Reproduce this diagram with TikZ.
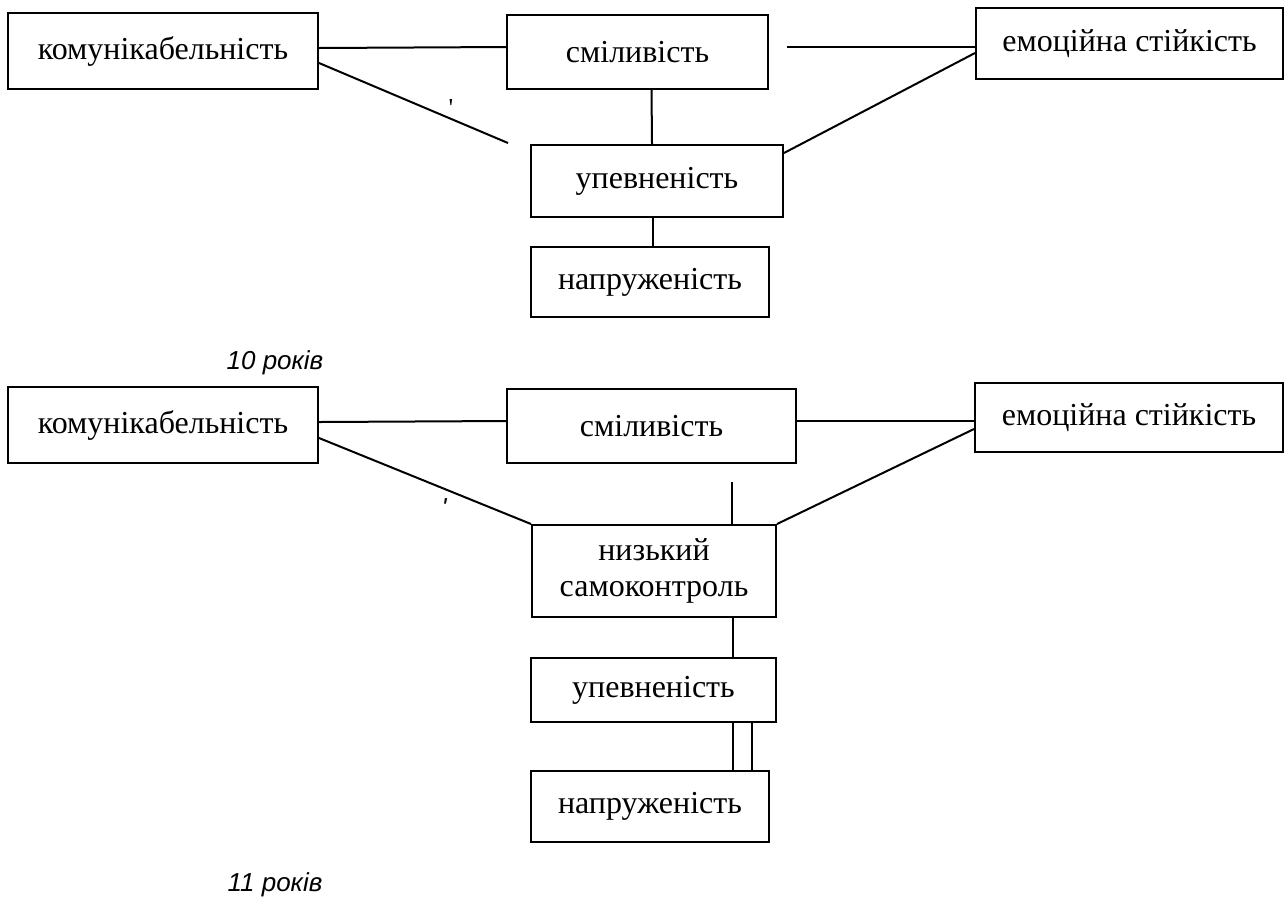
\documentclass[tikz,border=0pt]{standalone}
\usepackage{fontspec}
\setmainfont{Liberation Serif}
\newfontfamily\agefont{Liberation Sans}
\newfontfamily\strayfont[Ligatures=TeXOff]{Liberation Serif}

\tikzstyle{block} = [rectangle, draw, line width=1pt, fill=white, text centered, inner sep=0pt, font=\fontsize{16}{18}\selectfont]
\tikzstyle{line} = [draw, line width=1pt]
\tikzstyle{age} = [font=\agefont\fontsize{13}{15}\selectfont\itshape]
\tikzstyle{stray} = [inner sep=0pt, font=\strayfont\fontsize{13}{15}\selectfont]

\begin{document}
\begin{tikzpicture}[x=0.5pt, y=-0.5pt]
    \useasboundingbox (0,0) rectangle (1288,901);

    % 10 years
    \node[block, minimum width=155pt, minimum height=38pt] (kom1) at (163,51) {комунікабельність};
    \node[block, minimum width=130.5pt, minimum height=37pt] (smil1) at (637.5,52) {сміливість};
    \node[block, minimum width=153.5pt, minimum height=35.5pt] (emo1) at (1129.5,43.5) {емоційна стійкість};
    \node[block, minimum width=126pt, minimum height=36pt] (upev1) at (657,181) {упевненість};
    \node[block, minimum width=119pt, minimum height=35pt] (napr1) at (650,282) {напруженість};
    \node[age] (age1) at (275,363) {10 років};
    \node[stray] (tick1) at (451,108) {\char"27};

    \coordinate (gap1) at (508,143);
    \coordinate (gap2) at (787,47);

    % lines
    \draw[line] ([yshift=1.5pt]kom1.east) -- ([yshift=2.5pt]smil1.west);
    \draw[line] ([yshift=-6pt]kom1.east) -- (gap1);
    \draw[line] (gap2) -- ([yshift=-1.75pt]emo1.west);
    \draw[line] ([xshift=7pt]smil1.south) -- ([xshift=-2.5pt]upev1.north);
    \draw[line] ([yshift=-4.75pt]emo1.west) -- ([yshift=-4.5pt]upev1.north east);
    \draw[line] ([xshift=-2pt]upev1.south) -- ([xshift=1.5pt]napr1.north);

    % 11 years
    \node[block, minimum width=155pt, minimum height=38pt] (kom2) at (163,425) {комунікабельність};
    \node[block, minimum width=144.5pt, minimum height=37pt] (smil2) at (651.5,426) {сміливість};
    \node[block, minimum width=154pt, minimum height=34.5pt] (emo2) at (1129,417.5) {емоційна стійкість};
    \node[block, minimum width=122pt, minimum height=46pt, align=center] (nyz2) at (654,571) {низький\\самоконтроль};
    \node[block, minimum width=122.5pt, minimum height=32pt] (upev2) at (653.5,690) {упевненість};
    \node[block, minimum width=119pt, minimum height=35.5pt] (napr2) at (650,806.5) {напруженість};
    \node[age] (age2) at (275,885) {11 років};
    \node[stray, font=\agefont\fontsize{13}{15}\selectfont\itshape] (tick2) at (444,508) {\char"27};

    \coordinate (stub) at (732,482);
    \coordinate (pair1) at ([xshift=39.75pt]upev2.south);
    \coordinate (pair2) at ([xshift=49.25pt]upev2.south);
    \coordinate (link) at ([xshift=39.5pt]nyz2.south);

    % lines
    \draw[line] ([yshift=1.5pt]kom2.east) -- ([yshift=2.5pt]smil2.west);
    \draw[line] ([yshift=-6.5pt]kom2.east) -- (nyz2.north west);
    \draw[line] ([yshift=2.5pt]smil2.east) -- ([yshift=-1.75pt]emo2.west);
    \draw[line] ([yshift=-5.75pt]emo2.west) -- (nyz2.north east);
    \draw[line] (stub) -- (stub |- nyz2.north);
    \draw[line] (link) -- (link |- upev2.north);
    \draw[line] (pair1) -- (pair1 |- napr2.north);
    \draw[line] (pair2) -- (pair2 |- napr2.north);
\end{tikzpicture}
\end{document}
